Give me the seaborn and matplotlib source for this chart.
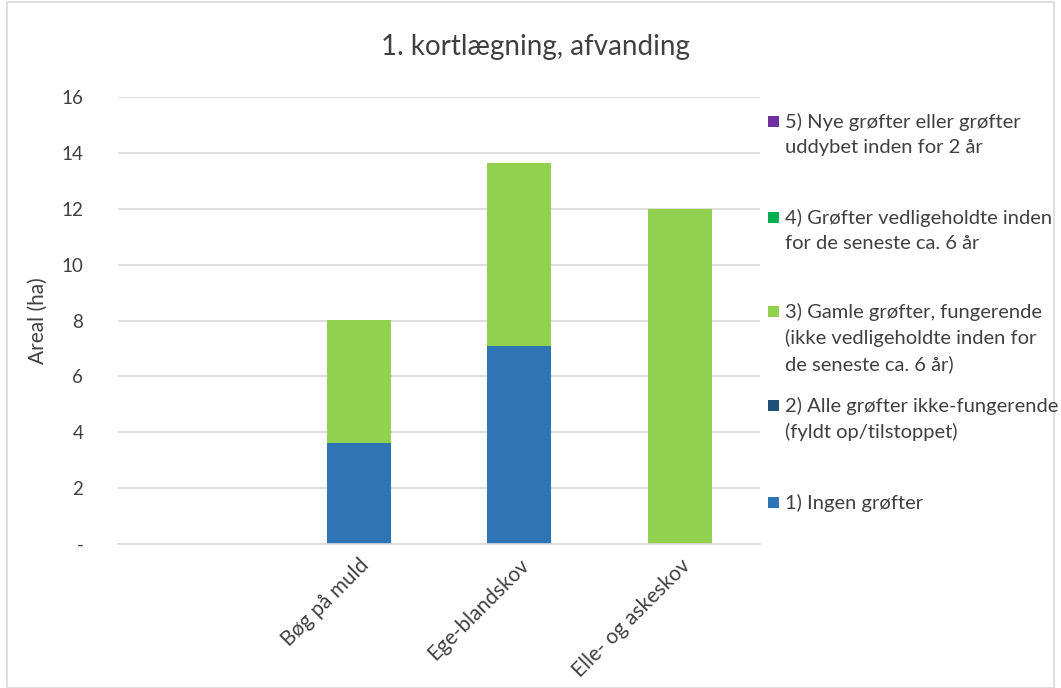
import matplotlib
matplotlib.use("Agg")
import matplotlib.pyplot as plt
import seaborn as sns
import pandas as pd
import numpy as np
from matplotlib.patches import Rectangle

categories = ["", "Bøg på muld", "Ege-blandskov", "Elle- og askeskov"]
s1_ingen = [0.0, 3.6, 7.1, 0.0]
s2_ikke_fung = [0.0, 0.0, 0.0, 0.0]
s3_gamle = [0.0, 4.4, 6.55, 12.0]
s4_vedlige = [0.0, 0.0, 0.0, 0.0]
s5_nye = [0.0, 0.0, 0.0, 0.0]

series_names = [
    "1) Ingen grøfter",
    "2) Alle grøfter ikke-fungerende\n(fyldt op/tilstoppet)",
    "3) Gamle grøfter, fungerende\n(ikke vedligeholdte inden for\nde seneste ca. 6 år)",
    "4) Grøfter vedligeholdte inden\nfor de seneste ca. 6 år",
    "5) Nye grøfter eller grøfter\nuddybet inden for 2 år",
]
series_values = [s1_ingen, s2_ikke_fung, s3_gamle, s4_vedlige, s5_nye]
colors = ["#2E75B6", "#1F4E79", "#92D050", "#00B050", "#7030A0"]

yticks = [0, 2, 4, 6, 8, 10, 12, 14, 16]
ytick_labels = ["-", "2", "4", "6", "8", "10", "12", "14", "16"]

sns.set_theme(style="white")
plt.rcParams["font.family"] = ["Lato", "DejaVu Sans"]

fig = plt.figure(figsize=(10.61, 6.88), dpi=100)
ax = fig.add_axes([118 / 1061, 1 - 544 / 688, (760 - 118) / 1061, (544 - 97) / 688])

pos = list(range(len(categories)))
bottom = np.zeros(len(categories))
for name, vals, col in zip(series_names, series_values, colors):
    df = pd.DataFrame({"pos": pos, "val": vals})
    sns.barplot(data=df, x="pos", y="val", color=col, width=0.4,
                bottom=bottom.copy(), ax=ax, saturation=1, linewidth=0,
                native_scale=True)
    bottom = bottom + np.array(vals)

ax.set_xlim(-0.5, len(categories) - 0.5)
ax.set_ylim(0, 16)
ax.set_yticks(yticks)
ax.set_yticklabels(ytick_labels, fontsize=13.5, color="#404040")
ax.set_xticks(pos)
ax.set_xticklabels(categories, rotation=45, ha="right", rotation_mode="anchor",
                   fontsize=15, color="#404040")
ax.tick_params(axis="x", pad=8, length=0)
ax.tick_params(axis="y", pad=25, length=0)
ax.yaxis.grid(True, color="#D9D9D9", linewidth=1.2)
ax.set_axisbelow(True)
for s in ["left", "right", "top"]:
    ax.spines[s].set_visible(False)
ax.spines["bottom"].set_color("#D9D9D9")
ax.spines["bottom"].set_linewidth(1.2)
ax.set_xlabel("")
ax.set_ylabel("Areal (ha)", fontsize=15, color="#404040", labelpad=10)

fig.text(535 / 1061, 1 - 47 / 688, "1. kortlægning, afvanding", fontsize=20,
         color="#404040", ha="center", va="center")

# Legend (reverse order, top = series 5)
leg_y = [122, 218, 312, 406, 503]
for (name, col), y in zip(list(zip(series_names, colors))[::-1], leg_y):
    fig.add_artist(Rectangle((768 / 1061, 1 - (y + 5) / 688), 11 / 1061, 11 / 688,
                             transform=fig.transFigure, facecolor=col, edgecolor="none"))
    fig.text(785 / 1061, 1 - (y - 9) / 688, name, fontsize=14.5, color="#404040",
             ha="left", va="top", linespacing=1.55)

fig.add_artist(Rectangle((7 / 1061, 0.0), 1 - 14 / 1061, 1 - 2 / 688,
                         transform=fig.transFigure, fill=False,
                         edgecolor="#D9D9D9", linewidth=1.2))

fig.savefig("out.png", dpi=100)
